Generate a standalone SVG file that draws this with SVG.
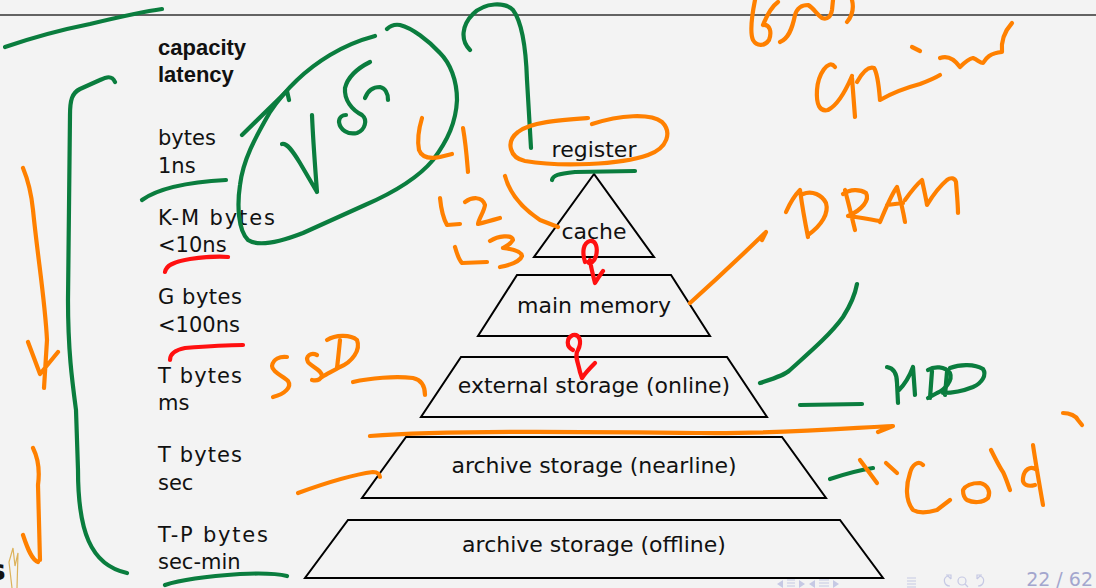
<svg xmlns="http://www.w3.org/2000/svg" width="1096" height="588" viewBox="0 0 1096 588">
  <defs>
    <style>
      .lbl { font-family: "DejaVu Sans", "Liberation Sans", sans-serif; font-size: 21px; fill: #111; }
      .head { font-family: "Liberation Sans", "DejaVu Sans", sans-serif; font-size: 22px; font-weight: bold; fill: #111; }
      .tier { fill: none; stroke: #000; stroke-width: 2; stroke-linejoin: miter; }
      .tname { font-family: "DejaVu Sans", "Liberation Sans", sans-serif; font-size: 22px; fill: #111; text-anchor: middle; }
      .ink { fill: none; stroke-width: 4.2; stroke-linecap: round; stroke-linejoin: round; }
      .g { stroke: #0a7d3e; }
      .o { stroke: #ff8000; }
      .r { stroke: #ff1010; }
      .nav { fill: #c6c9e4; }
      .navline { stroke: #c6c9e4; stroke-width: 1.2; fill: none; }
    </style>
  </defs>

  <!-- slide background and header rule -->
  <rect x="0" y="0" width="1096" height="588" fill="#f3f3f3"/>
  <line x1="0" y1="15" x2="1096" y2="15" stroke="#333" stroke-width="1.5"/>

  <!-- capacity / latency column -->
  <g id="legend">
    <text class="head" x="158" y="55">capacity</text>
    <text class="head" x="158" y="82">latency</text>
    <text class="lbl" x="158" y="145">bytes</text>
    <text class="lbl" x="158" y="173">1ns</text>
    <text class="lbl" x="158" y="225" textLength="117" lengthAdjust="spacing">K-M bytes</text>
    <text class="lbl" x="158" y="252">&lt;10ns</text>
    <text class="lbl" x="158" y="304" textLength="84" lengthAdjust="spacing">G bytes</text>
    <text class="lbl" x="158" y="332">&lt;100ns</text>
    <text class="lbl" x="158" y="383" textLength="84" lengthAdjust="spacing">T bytes</text>
    <text class="lbl" x="158" y="410">ms</text>
    <text class="lbl" x="158" y="462" textLength="84" lengthAdjust="spacing">T bytes</text>
    <text class="lbl" x="158" y="490">sec</text>
    <text class="lbl" x="158" y="542" textLength="110" lengthAdjust="spacing">T-P bytes</text>
    <text class="lbl" x="158" y="569">sec-min</text>
  </g>

  <!-- memory pyramid -->
  <g id="register">
    <text class="tname" x="594" y="157">register</text>
  </g>
  <g id="cache">
    <polygon class="tier" points="594,174 534,257 654,257"/>
    <text class="tname" x="594" y="239">cache</text>
  </g>
  <g id="main-memory">
    <polygon class="tier" points="517,275 671,275 710,336 478,336"/>
    <text class="tname" x="594" y="313">main memory</text>
  </g>
  <g id="external-storage">
    <polygon class="tier" points="461,357 727,357 767,417 421,417"/>
    <text class="tname" x="594" y="393">external storage (online)</text>
  </g>
  <g id="archive-nearline">
    <polygon class="tier" points="406,437 782,437 826,498 362,498"/>
    <text class="tname" x="594" y="473">archive storage (nearline)</text>
  </g>
  <g id="archive-offline">
    <polygon class="tier" points="348,520 840,520 883,578 305,578"/>
    <text class="tname" x="594" y="552">archive storage (offline)</text>
  </g>

  <!-- footer: logo edge, navigation, page number -->
  <g id="footer">
    <text x="-11" y="580" font-family="DejaVu Sans, sans-serif" font-weight="bold" font-size="28" fill="#111">s</text>
    <path d="M12,588 L9,562 L13,548 L15,566 L18,553 L17,588" fill="none" stroke="#dcb25a" stroke-width="1.2"/>
    <polygon class="nav" points="783,580 777,584 783,588"/>
    <path class="navline" d="M787,580 h8 M787,583 h8 M787,586 h8"/>
    <polygon class="nav" points="799,580 805,584 799,588"/>
    <polygon class="nav" points="815,580 809,584 815,588"/>
    <path class="navline" d="M819,580 h10 M819,583 h10 M819,586 h10"/>
    <polygon class="nav" points="833,580 839,584 833,588"/>
    <path class="navline" d="M907,578 h9 M907,581 h9 M907,584 h9 M907,587 h9"/>
    <path class="navline" d="M950,586 C944,586 942,578 948,576 L951,579 M946,575 L951,575 L951,579"/>
    <circle cx="962" cy="581" r="4" class="navline"/>
    <path class="navline" d="M965,584 L968,587"/>
    <path class="navline" d="M978,586 C984,586 986,578 980,576 L977,579 M982,575 L977,575 L977,579"/>
    <text x="1093" y="586" font-family="DejaVu Sans, sans-serif" font-size="19" fill="#a3a6ce" text-anchor="end">22 / 62</text>
  </g>

  <!-- handwritten annotations -->
  <g id="annotations">
    <!-- green ink -->
    <path class="ink g" d="M5,47 C40,35 65,29 90,24 C115,18 140,12 162,9"/>
    <path class="ink g" d="M115,82 C112,75 106,77 100,80 L80,89 C72,93 70,100 70,115 L68,300 C68,350 72,380 76,410 L78,470 C78,530 90,565 127,573"/>
    <path class="ink g" d="M142,200 C160,187 190,182 226,180"/>
    <path class="ink g" d="M242,135 L287,91 L289,100"/>
    <path class="ink g" d="M375,36 C360,40 345,46 330,55 C305,70 285,90 270,112 C255,138 243,160 240,185 C237,205 238,230 248,240 C260,248 285,240 303,233 C325,223 345,214 365,205 C395,192 418,178 433,160 C448,140 456,122 457,100 C457,80 450,63 440,53 C428,40 412,28 400,25 C394,24 390,26 387,29"/>
    <path class="ink g" d="M282,144 C287,143 292,150 300,163 L317,192 M312,115 C313,140 315,165 317,192"/>
    <path class="ink g" d="M370,62 C360,67 348,76 345,88 C344,100 352,110 362,115 C368,120 365,130 357,133 C348,135 340,130 339,122 C339,117 343,115 346,115"/>
    <path class="ink g" d="M365,98 C368,90 374,87 380,87 C385,88 388,93 388,100"/>
    <path class="ink g" d="M470,50 C460,40 462,25 473,14 C485,2 505,2 513,10 C522,22 526,50 527,80 L531,148"/>
    <path class="ink g" d="M552,180 C553,175 558,174 575,172 L635,171"/>
    <path class="ink g" d="M760,383 C775,378 785,375 790,370 C810,352 830,335 843,317 C850,306 855,295 857,284"/>
    <path class="ink g" d="M800,405 L862,404"/>
    <path class="ink g" d="M887,367 C893,368 897,372 897,383 L898,403 M899,390 C904,385 910,375 913,367 L915,395"/>
    <path class="ink g" d="M932,371 L930,398 M928,370 C934,366 945,366 950,373 C953,380 945,390 937,393 L928,398"/>
    <path class="ink g" d="M947,372 L945,395 M950,368 C960,364 975,364 983,369 C987,375 982,383 973,387 C963,391 952,393 943,393"/>
    <path class="ink g" d="M830,479 C845,474 860,470 873,468"/>
    <path class="ink g" d="M165,585 C180,580 210,576 240,574 C260,573 275,573 287,576"/>

    <!-- orange ink -->
    <path class="ink o" d="M755,0 C752,15 750,33 753,40 C757,47 765,46 769,40 C772,32 770,24 763,25 M763,25 C767,15 771,7 778,2"/>
    <path class="ink o" d="M780,42 C788,39 792,30 795,15 C797,8 802,5 808,5 C814,8 816,14 822,18 C828,20 831,16 832,10 L833,0"/>
    <path class="ink o" d="M847,22 C852,16 854,8 852,0"/>
    <path class="ink o" d="M835,67 C828,58 818,75 817,90 C816,105 820,112 828,110 C838,105 846,90 852,76 M852,78 C853,92 854,105 855,117"/>
    <path class="ink o" d="M857,82 C862,73 868,66 874,68 C878,74 879,88 880,100 C892,93 905,88 920,84 C928,81 935,78 940,75"/>
    <path class="ink o" d="M912,47 L920,51"/>
    <path class="ink o" d="M940,58 C948,55 955,60 960,67 C964,63 968,59 973,58 C978,60 980,63 983,63 C986,58 990,53 1002,52 C1001,42 1004,32 1012,23"/>
    <path class="ink o" d="M786,212 C790,203 795,195 800,190 M800,190 C802,205 805,222 808,237 M803,194 C812,190 822,195 826,203 C829,213 822,225 808,235"/>
    <path class="ink o" d="M845,190 C849,205 852,218 855,230 M843,194 C850,189 860,189 866,193 C870,200 862,210 848,216 C858,217 868,219 880,221"/>
    <path class="ink o" d="M880,222 C886,208 891,195 897,187 C900,198 903,210 905,222 M887,205 L903,203"/>
    <path class="ink o" d="M905,200 C910,193 916,185 922,180 C924,190 926,198 927,205 C933,195 940,186 947,180 C951,177 955,178 956,182 C957,195 958,205 958,213"/>
    <path class="ink o" d="M690,303 C710,285 735,262 766,232 L762,240"/>
    <path class="ink o" d="M588,118 C560,120 530,122 518,132 C505,142 510,158 525,161 C560,167 620,165 648,155 C668,148 672,132 662,122 C650,113 620,115 592,124"/>
    <path class="ink o" d="M422,118 C419,128 417,140 419,150 C422,158 430,159 440,157 L452,154 M463,128 C466,145 467,160 468,172"/>
    <path class="ink o" d="M440,198 C441,208 443,218 447,225 L460,224 M465,202 C472,197 482,196 485,205 C484,212 479,218 478,224 C486,222 493,220 500,218"/>
    <path class="ink o" d="M455,247 C457,254 459,260 462,263 L487,262 M490,241 C498,236 512,234 513,240 C510,245 505,247 503,248 C512,249 521,251 522,256 C520,262 510,265 500,267"/>
    <path class="ink o" d="M505,176 C510,195 525,210 540,220 L558,227"/>
    <path class="ink o" d="M23,168 C28,180 31,190 33,210 C38,260 45,300 47,340 L44,388 M28,342 L40,374 L58,352"/>
    <path class="ink o" d="M33,448 C38,458 40,470 38,485 L40,560 M23,535 C28,550 32,560 38,562"/>
    <path class="ink o" d="M287,357 C280,356 273,359 272,366 C272,372 283,376 288,381 C292,387 285,394 273,397"/>
    <path class="ink o" d="M317,355 C311,352 305,356 308,362 C312,367 322,370 322,376 C320,380 316,381 312,380"/>
    <path class="ink o" d="M340,340 C339,350 338,360 337,368 M327,340 C335,335 350,334 357,340 C361,350 352,362 340,367 C333,371 327,374 322,377"/>
    <path class="ink o" d="M353,382 C370,378 395,376 413,378 C422,380 425,386 425,395"/>
    <path class="ink o" d="M370,436 C450,430 600,432 700,433 C780,434 850,428 893,426 L878,432"/>
    <path class="ink o" d="M298,493 C320,485 350,475 373,472 C378,472 380,475 380,477"/>
    <path class="ink o" d="M860,460 L877,483 M886,463 L897,473"/>
    <path class="ink o" d="M923,465 C918,460 912,465 910,473 C906,485 905,500 913,510 C920,514 930,512 937,510 L950,500"/>
    <path class="ink o" d="M963,490 C966,485 973,483 980,483 C988,485 991,492 988,498 C983,503 973,503 967,500 C963,497 963,493 963,490"/>
    <path class="ink o" d="M991,450 C996,460 1000,468 1003,472 C1006,478 1008,485 1010,490"/>
    <path class="ink o" d="M1033,445 C1036,465 1040,488 1043,505 M1037,470 C1030,465 1024,470 1023,478 C1022,485 1028,487 1035,485"/>
    <path class="ink o" d="M1063,413 C1070,413 1076,416 1078,420 L1082,425"/>

    <!-- red ink -->
    <path class="ink r" d="M165,272 C166,266 172,262 190,259 C205,257 218,256 228,257"/>
    <path class="ink r" d="M170,360 C170,354 175,350 185,348 C210,346 230,345 243,345"/>
    <path class="ink r" d="M585,262 C582,252 583,243 590,241 C596,240 598,248 596,256 C594,262 590,265 588,262 M590,260 C591,268 593,275 595,283 C598,278 600,275 603,271"/>
    <path class="ink r" d="M573,350 C566,347 566,338 573,335 C580,334 582,342 578,350 C574,355 578,362 580,372 L582,378 C586,372 590,368 595,363"/>
  </g>
</svg>
